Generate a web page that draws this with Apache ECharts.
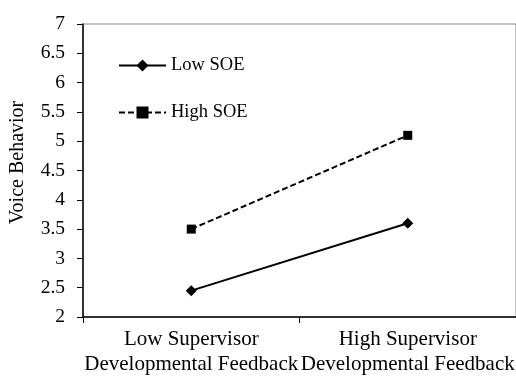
<!DOCTYPE html>
<html><head><meta charset="utf-8">
<script src="https://cdn.jsdelivr.net/npm/echarts@6/dist/echarts.min.js"></script>
<style>html,body{margin:0;padding:0;background:#fff}#c{width:516px;height:377px}</style>
</head><body><div id="c"></div>
<script>
const categories = ['Low Supervisor\nDevelopmental Feedback', 'High Supervisor\nDevelopmental Feedback'];
const lowSOE = [2.45, 3.6];
const highSOE = [3.5, 5.1];
const yMin = 2, yMax = 7, yStep = 0.5;
const font = 'Liberation Serif';
const chart = echarts.init(document.getElementById('c'), null, {renderer: 'canvas'});
chart.setOption({
  animation: false,
  backgroundColor: '#fff',
  grid: {left: 83, top: 24, width: 440, height: 293, show: true, borderColor: '#8a8a8a', borderWidth: 1, backgroundColor: 'transparent'},
  legend: {
    orient: 'vertical', left: 113, top: 51, itemGap: 28, itemWidth: 47, itemHeight: 15,
    textStyle: {fontFamily: font, fontSize: 18.5, color: '#000'},
    data: ['Low SOE', 'High SOE']
  },
  xAxis: {
    type: 'category', data: categories, boundaryGap: true,
    axisLine: {lineStyle: {color: '#000', width: 1.5}},
    axisTick: {show: true, length: 6, lineStyle: {color: '#000'}},
    axisLabel: {fontFamily: font, fontSize: 21, color: '#000', lineHeight: 25, margin: 10, interval: 0, hideOverlap: false}
  },
  yAxis: {
    type: 'value', min: yMin, max: yMax, interval: yStep,
    name: 'Voice Behavior', nameLocation: 'middle', nameGap: 55, nameRotate: 90,
    nameTextStyle: {fontFamily: font, fontSize: 20, color: '#000', padding: [0, 0, 0, 16]},
    splitLine: {show: false},
    axisLine: {show: true, lineStyle: {color: '#000', width: 1.5}},
    axisTick: {show: true, length: 6, lineStyle: {color: '#000'}},
    axisLabel: {fontFamily: font, fontSize: 19.5, color: '#000', margin: 18}
  },
  series: [
    {name: 'Low SOE', type: 'line', data: lowSOE, symbol: 'diamond', symbolSize: 11,
     lineStyle: {color: '#000', width: 2, type: 'solid'}, itemStyle: {color: '#000'}},
    {name: 'High SOE', type: 'line', data: highSOE, symbol: 'rect', symbolSize: 9,
     lineStyle: {color: '#000', width: 2, type: [6, 3]}, itemStyle: {color: '#000'}}
  ]
});
</script></body></html>
